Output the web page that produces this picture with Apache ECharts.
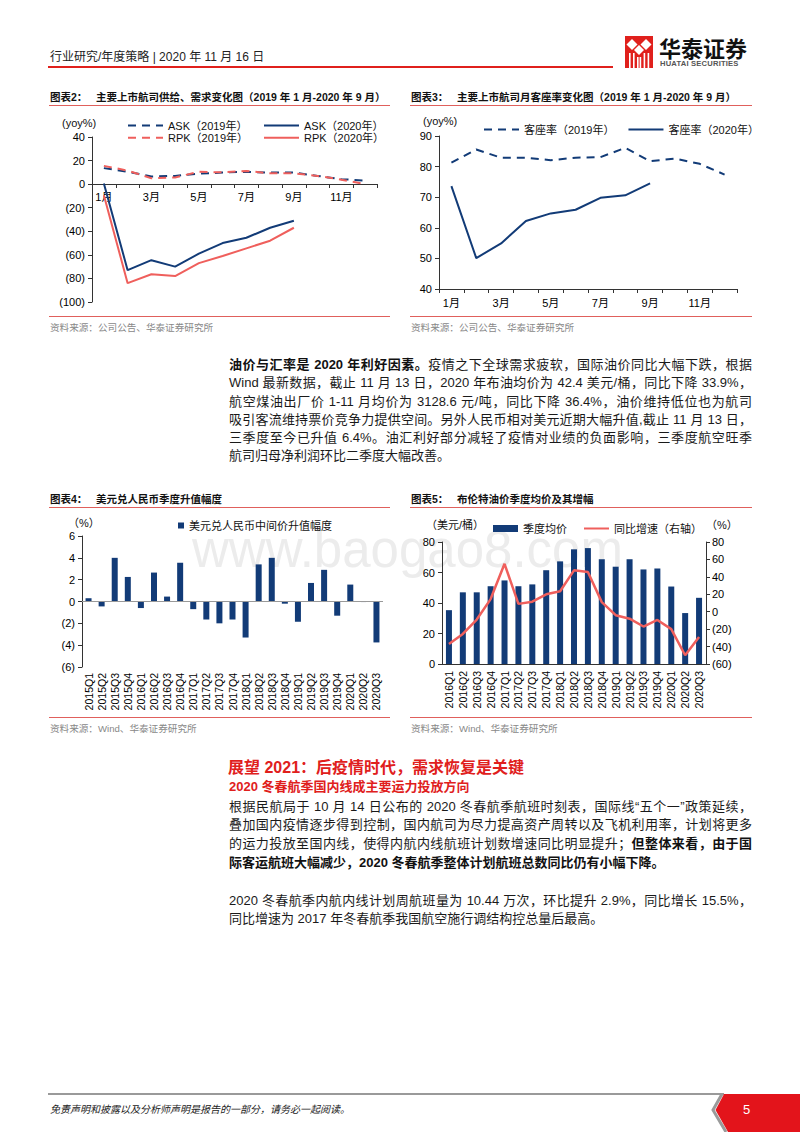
<!DOCTYPE html>
<html><head><meta charset="utf-8">
<script src="https://cdn.jsdelivr.net/npm/echarts@6/dist/echarts.min.js"></script>
<style>
body{margin:0;background:#fff;}
#page{position:relative;width:800px;height:1132px;overflow:hidden;background:#fff;font-family:"Liberation Sans","Noto Sans CJK SC",sans-serif;color:#1a1a1a;}
.abs{position:absolute;white-space:nowrap;}
.ttl{font-size:10.5px;font-weight:bold;line-height:16px;color:#111;}
.src{font-size:9.6px;line-height:14px;color:#888;}
.hl{position:absolute;height:1px;background:#e0605c;}
.chart{position:absolute;z-index:2;}
.para{position:absolute;width:523px;font-size:13px;color:#1a1a1a;}
.para div{white-space:nowrap;}
.para div.j{text-align:justify;text-align-last:justify;white-space:normal;}
b{font-weight:bold;color:#111;}
#wm{position:absolute;left:192px;top:524px;font-size:51px;line-height:51px;color:#ececec;z-index:1;font-family:"Liberation Sans",sans-serif;}
</style></head>
<body><div id="page">
<!-- header -->
<div class="abs" style="left:50px;top:50px;font-size:12px;line-height:15px;color:#222;">行业研究/年度策略 | 2020 年 11 月 16 日</div>
<div style="position:absolute;left:48px;top:66px;width:565px;height:2px;background:#e0201c;"></div>
<svg style="position:absolute;left:625px;top:36px" width="28" height="32">
<rect width="28" height="32" fill="#e0201c"/>
<polygon points="7,3 12.5,8.5 7,14 1.5,8.5" fill="#fff"/>
<polygon points="21,3 26.5,8.5 21,14 15.5,8.5" fill="#fff"/>
<polygon points="14,9 19,14 14,19 9,14" fill="#fff"/>
<rect x="4" y="17" width="1.6" height="15" fill="#fff"/>
<rect x="8" y="17" width="1.6" height="15" fill="#fff"/>
<rect x="12" y="21" width="1.6" height="11" fill="#fff"/>
<rect x="14.6" y="21" width="1.6" height="11" fill="#fff"/>
<rect x="18.6" y="17" width="1.6" height="15" fill="#fff"/>
<rect x="22.6" y="17" width="1.6" height="15" fill="#fff"/>
</svg>
<div class="abs" style="left:659px;top:34px;font-size:22px;line-height:26px;font-weight:bold;color:#111;font-family:'Noto Sans CJK SC';">华泰证券</div>
<div class="abs" style="left:660px;top:59px;font-size:7.6px;line-height:10px;font-weight:bold;color:#555;letter-spacing:0.2px;">HUATAI SECURITIES</div>

<!-- chart titles / sources -->
<div class="abs ttl" style="left:50px;top:89px;">图表2：&nbsp;&nbsp;&nbsp;主要上市航司供给、需求变化图（2019 年 1 月-2020 年 9 月）</div>
<div class="hl" style="left:49px;top:105px;width:341px;"></div>
<div class="hl" style="left:49px;top:316px;width:341px;"></div>
<div class="abs src" style="left:50px;top:321px;">资料来源：公司公告、华泰证券研究所</div>

<div class="abs ttl" style="left:411px;top:89px;">图表3：&nbsp;&nbsp;&nbsp;主要上市航司月客座率变化图（2019 年 1 月-2020 年 9 月）</div>
<div class="hl" style="left:410px;top:105px;width:342px;"></div>
<div class="hl" style="left:410px;top:316px;width:342px;"></div>
<div class="abs src" style="left:411px;top:321px;">资料来源：公司公告、华泰证券研究所</div>

<div class="abs ttl" style="left:50px;top:491px;">图表4：&nbsp;&nbsp;&nbsp;美元兑人民币季度升值幅度</div>
<div class="hl" style="left:49px;top:507px;width:341px;"></div>
<div class="hl" style="left:49px;top:717px;width:341px;"></div>
<div class="abs src" style="left:50px;top:722px;">资料来源：Wind、华泰证券研究所</div>

<div class="abs ttl" style="left:411px;top:491px;">图表5：&nbsp;&nbsp;&nbsp;布伦特油价季度均价及其增幅</div>
<div class="hl" style="left:410px;top:507px;width:342px;"></div>
<div class="hl" style="left:410px;top:717px;width:342px;"></div>
<div class="abs src" style="left:411px;top:722px;">资料来源：Wind、华泰证券研究所</div>

<div id="wm">www.baogao8.com</div>

<div id="c2" class="chart" style="left:40px;top:108px;width:360px;height:208px;"></div>
<div id="c3" class="chart" style="left:400px;top:108px;width:380px;height:208px;"></div>
<div id="c4" class="chart" style="left:40px;top:510px;width:360px;height:205px;"></div>
<div id="c5" class="chart" style="left:400px;top:510px;width:380px;height:205px;"></div>

<!-- paragraph 1 -->
<div class="para" style="left:229px;top:356px;line-height:18.3px;">
<div class="j"><b>油价与汇率是 2020 年利好因素。</b>疫情之下全球需求疲软，国际油价同比大幅下跌，根据</div>
<div class="j">Wind 最新数据，截止 11 月 13 日，2020 年布油均价为 42.4 美元/桶，同比下降 33.9%，</div>
<div class="j">航空煤油出厂价 1-11 月均价为 3128.6 元/吨，同比下降 36.4%，油价维持低位也为航司</div>
<div class="j">吸引客流维持票价竞争力提供空间。另外人民币相对美元近期大幅升值,截止 11 月 13 日，</div>
<div class="j">三季度至今已升值 6.4%。油汇利好部分减轻了疫情对业绩的负面影响，三季度航空旺季</div>
<div>航司归母净利润环比二季度大幅改善。</div>
</div>

<!-- section -->
<div class="abs" style="left:228px;top:758px;font-size:16px;line-height:20px;font-weight:bold;color:#e0201c;">展望 2021：后疫情时代，需求恢复是关键</div>
<div class="abs" style="left:229px;top:778px;font-size:13px;line-height:18px;font-weight:bold;color:#e0201c;">2020 冬春航季国内线成主要运力投放方向</div>
<div class="para" style="left:229px;top:797.5px;line-height:18.7px;">
<div class="j">根据民航局于 10 月 14 日公布的 2020 冬春航季航班时刻表，国际线“五个一”政策延续，</div>
<div class="j">叠加国内疫情逐步得到控制，国内航司为尽力提高资产周转以及飞机利用率，计划将更多</div>
<div class="j">的运力投放至国内线，使得内航内线航班计划数增速同比明显提升；<b>但整体来看，由于国</b></div>
<div><b>际客运航班大幅减少，2020 冬春航季整体计划航班总数同比仍有小幅下降。</b></div>
</div>
<div class="para" style="left:229px;top:891.5px;line-height:18.7px;">
<div class="j">2020 冬春航季内航内线计划周航班量为 10.44 万次，环比提升 2.9%，同比增长 15.5%，</div>
<div>同比增速为 2017 年冬春航季我国航空施行调结构控总量后最高。</div>
</div>

<!-- footer -->
<div style="position:absolute;left:48px;top:1093px;width:676px;height:2px;background:#9a9a9a;"></div>
<svg style="position:absolute;left:700px;top:1090px" width="100" height="42">
<polyline points="22,4 13,20 26,42" fill="none" stroke="#9a9a9a" stroke-width="3"/>
<polygon points="24,4 100,4 100,42 28,42 15.5,20" fill="#e3141b"/>
</svg>
<div class="abs" style="left:743px;top:1102px;font-size:13px;line-height:16px;color:#fff;">5</div>
<div class="abs" style="left:50px;top:1103px;font-size:10px;line-height:14px;font-style:italic;color:#222;">免责声明和披露以及分析师声明是报告的一部分，请务必一起阅读。</div>
</div>

<script>
// ---------- data ----------
const months = ['1月','2月','3月','4月','5月','6月','7月','8月','9月','10月','11月','12月'];
const ask2019 = [13.6, 10.5, 6.5, 7, 9, 9.8, 10.5, 9.8, 9.8, 7, 4.2, 3];
const rpk2019 = [15.5, 11.5, 5, 5.7, 10.5, 10, 11.2, 9.2, 9.2, 7, 3.8, 0];
const ask2020 = [0.5, -73, -64.5, -70, -59, -50, -45.5, -37, -31];
const rpk2020 = [-9.5, -84, -76.5, -78, -67, -61, -54.5, -48, -37];

const load2019 = [81.3, 85.6, 82.9, 82.9, 82.1, 82.9, 83.1, 86.1, 81.8, 82.6, 80.9, 77.4];
const load2020 = [73.6, 50.1, 54.9, 62.2, 64.7, 65.9, 69.8, 70.6, 74.5];

const fxQuarters = ['2015Q1','2015Q2','2015Q3','2015Q4','2016Q1','2016Q2','2016Q3','2016Q4','2017Q1','2017Q2','2017Q3','2017Q4','2018Q1','2018Q2','2018Q3','2018Q4','2019Q1','2019Q2','2019Q3','2019Q4','2020Q1','2020Q2','2020Q3'];
const fxChange = [0.3, -0.45, 4.0, 2.25, -0.6, 2.65, 0.45, 3.55, -0.7, -1.65, -2.0, -1.65, -3.3, 3.4, 4.0, -0.2, -1.85, 1.7, 2.9, -1.3, 1.55, -0.05, -3.75];

const oilQuarters = ['2016Q1','2016Q2','2016Q3','2016Q4','2017Q1','2017Q2','2017Q3','2017Q4','2018Q1','2018Q2','2018Q3','2018Q4','2019Q1','2019Q2','2019Q3','2019Q4','2020Q1','2020Q2','2020Q3'];
const oilPrice = [35.3, 47, 47, 51, 54.8, 51, 52.2, 61.5, 67.3, 75.2, 76, 68.7, 63.8, 68.7, 62, 62.6, 50.8, 33.4, 43.4];
const oilYoy = [-37, -25.5, -9, 14.5, 55, 9, 11.5, 20, 23.5, 47.5, 45.5, 11, -4, -8, -17, -9.5, -20, -50, -29];

// ---------- styles ----------
const FONT = '"Liberation Sans","Noto Sans CJK SC",sans-serif';
const NAVY = '#123b77';
const RED = '#ef5f5c';
const AXIS = '#333';
const paren = v => v < 0 ? '(' + Math.abs(v) + ')' : String(v);
const lbl = {fontSize: 11, color: '#000', fontFamily: FONT};
const legTxt = {fontSize: 11, color: '#111', fontFamily: FONT};
const DASH = [8, 6];

function gtext(text, x, y, extra) {
  return Object.assign({type: 'text', style: {text: text, x: x, y: y, font: '11px ' + FONT, fill: '#111', verticalAlign: 'middle'}}, extra || {});
}
function mk(id) { return echarts.init(document.getElementById(id), null, {renderer: 'svg'}); }

// ---------- chart 2 ----------
// plot height 165 px for 140 units; zero line sits 100 units above bottom
const c2PlotH = 208 - 29 - 14;
const c2ZeroOffset = -Math.round(c2PlotH * 100 / 140);
mk('c2').setOption({
  animation: false,
  textStyle: {fontFamily: FONT},
  grid: {left: 52, right: 23, top: 29, bottom: 14, containLabel: false, outerBoundsMode: 'none'},
  legend: [
    {left: 82, top: 7, orient: 'vertical', itemWidth: 35, itemHeight: 14, itemGap: 1, itemStyle: {opacity: 0},
     data: ['ASK（2019年）', 'RPK（2019年）'], textStyle: legTxt},
    {left: 218, top: 7, orient: 'vertical', itemWidth: 35, itemHeight: 14, itemGap: 1, itemStyle: {opacity: 0},
     data: ['ASK（2020年）', 'RPK（2020年）'], textStyle: legTxt}
  ],
  graphic: [gtext('(yoy%)', 22, 15)],
  xAxis: {type: 'category', data: months, boundaryGap: true, position: 'bottom', offset: c2ZeroOffset,
    axisLine: {onZero: false, lineStyle: {color: AXIS}},
    axisTick: {show: true, interval: 0, length: 4, lineStyle: {color: AXIS}},
    axisLabel: Object.assign({interval: 1, margin: 7}, lbl)},
  yAxis: {type: 'value', min: -100, max: 40, interval: 20,
    axisLine: {show: true, lineStyle: {color: AXIS}},
    axisTick: {show: true, length: 4, lineStyle: {color: AXIS}},
    splitLine: {show: false},
    axisLabel: Object.assign({formatter: paren, margin: 7}, lbl)},
  series: [
    {name: 'ASK（2019年）', type: 'line', data: ask2019, symbol: 'none', color: NAVY, lineStyle: {color: NAVY, width: 2, type: DASH}},
    {name: 'RPK（2019年）', type: 'line', data: rpk2019, symbol: 'none', color: RED, lineStyle: {color: RED, width: 2, type: DASH}},
    {name: 'ASK（2020年）', type: 'line', data: ask2020, symbol: 'none', color: NAVY, lineStyle: {color: NAVY, width: 2}},
    {name: 'RPK（2020年）', type: 'line', data: rpk2020, symbol: 'none', color: RED, lineStyle: {color: RED, width: 2}}
  ]
});

// ---------- chart 3 ----------
mk('c3').setOption({
  animation: false,
  textStyle: {fontFamily: FONT},
  grid: {left: 39, right: 43, top: 28, bottom: 27, containLabel: false, outerBoundsMode: 'none'},
  legend: {left: 78, top: 11, itemWidth: 35, itemHeight: 14, itemGap: 13, itemStyle: {opacity: 0},
    data: ['客座率（2019年）', '客座率（2020年）'], textStyle: legTxt},
  graphic: [gtext('(yoy%)', 23, 13)],
  xAxis: {type: 'category', data: months, boundaryGap: true,
    axisLine: {lineStyle: {color: AXIS}},
    axisTick: {show: true, interval: 0, length: 4, lineStyle: {color: AXIS}},
    axisLabel: Object.assign({interval: 1, margin: 8}, lbl)},
  yAxis: {type: 'value', min: 40, max: 90, interval: 10,
    axisLine: {show: true, lineStyle: {color: AXIS}},
    axisTick: {show: true, length: 4, lineStyle: {color: AXIS}},
    splitLine: {show: false},
    axisLabel: Object.assign({margin: 7}, lbl)},
  series: [
    {name: '客座率（2019年）', type: 'line', data: load2019, symbol: 'none', color: NAVY, lineStyle: {color: NAVY, width: 2, type: DASH}},
    {name: '客座率（2020年）', type: 'line', data: load2020, symbol: 'none', color: NAVY, lineStyle: {color: NAVY, width: 2}}
  ]
});

// ---------- chart 4 ----------
mk('c4').setOption({
  animation: false,
  textStyle: {fontFamily: FONT},
  grid: {left: 42, right: 17, top: 26, bottom: 48, containLabel: false, outerBoundsMode: 'none'},
  legend: {left: 133, top: 5, itemWidth: 6, itemHeight: 6, icon: 'rect',
    data: ['美元兑人民币中间价升值幅度'], textStyle: legTxt},
  graphic: [gtext('（%）', 28, 13)],
  xAxis: {type: 'category', data: fxQuarters, boundaryGap: true,
    axisLine: {show: false, onZero: false}, axisTick: {show: false},
    axisLabel: Object.assign({interval: 0, rotate: 90, margin: 6}, lbl, {fontSize: 10.5})},
  yAxis: {type: 'value', min: -6, max: 6, interval: 2,
    axisLine: {show: true, lineStyle: {color: AXIS}},
    axisTick: {show: true, length: 4, lineStyle: {color: AXIS}},
    splitLine: {show: false},
    axisLabel: Object.assign({formatter: paren, margin: 7}, lbl)},
  series: [{name: '美元兑人民币中间价升值幅度', type: 'bar', data: fxChange, barWidth: 6, color: NAVY, itemStyle: {color: NAVY},
    markLine: {silent: true, symbol: ['none', 'none'], label: {show: false}, lineStyle: {color: '#999', type: 'solid', width: 1},
      data: [{yAxis: 0}]}}]
});

// ---------- chart 5 ----------
mk('c5').setOption({
  animation: false,
  textStyle: {fontFamily: FONT},
  grid: {left: 42, right: 74, top: 32, bottom: 51, containLabel: false, outerBoundsMode: 'none'},
  legend: {left: 88, top: 8, itemWidth: 25, itemHeight: 7, itemGap: 16,
    data: [{name: '季度均价', icon: 'rect'}, {name: '同比增速（右轴）', itemStyle: {opacity: 0}}], textStyle: legTxt},
  graphic: [gtext('（美元/桶）', 26, 15), gtext('（%）', 306, 15)],
  xAxis: {type: 'category', data: oilQuarters, boundaryGap: true,
    axisLine: {lineStyle: {color: AXIS}}, axisTick: {show: false},
    axisLabel: Object.assign({interval: 0, rotate: 90, margin: 7}, lbl, {fontSize: 10.5})},
  yAxis: [
    {type: 'value', min: 0, max: 80, interval: 20,
      axisLine: {show: true, lineStyle: {color: AXIS}},
      axisTick: {show: true, length: 4, lineStyle: {color: AXIS}},
      splitLine: {show: false}, axisLabel: Object.assign({margin: 7}, lbl)},
    {type: 'value', min: -60, max: 80, interval: 20, position: 'right',
      axisLine: {show: true, lineStyle: {color: AXIS}},
      axisTick: {show: true, length: 4, lineStyle: {color: AXIS}},
      splitLine: {show: false}, axisLabel: Object.assign({formatter: paren, margin: 6}, lbl)}
  ],
  series: [
    {name: '季度均价', type: 'bar', data: oilPrice, barWidth: 6, color: NAVY, itemStyle: {color: NAVY}},
    {name: '同比增速（右轴）', type: 'line', yAxisIndex: 1, data: oilYoy, symbol: 'none', color: RED, lineStyle: {color: RED, width: 2.5}}
  ]
});
</script>
</body></html>
